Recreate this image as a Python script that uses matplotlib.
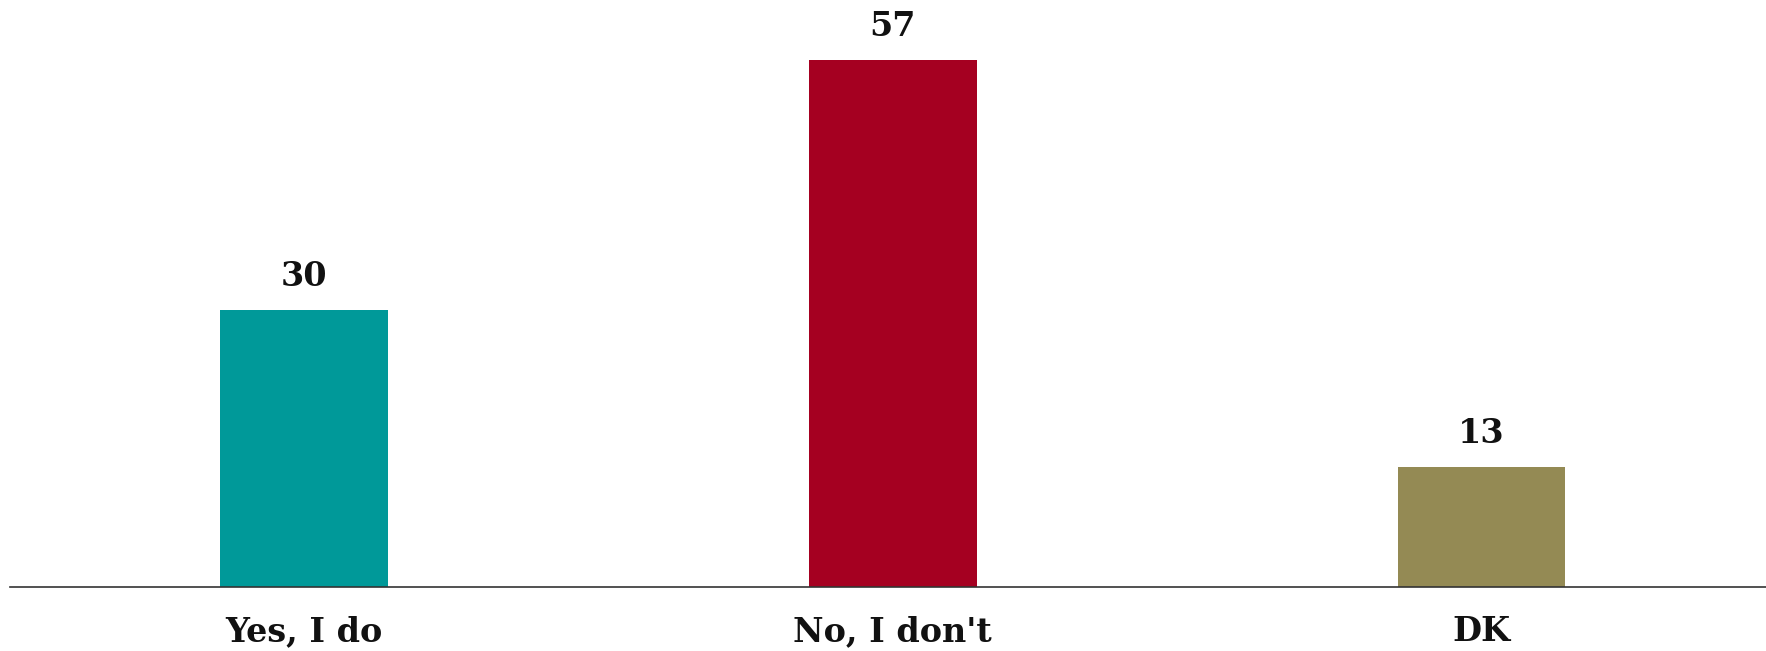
import matplotlib.pyplot as plt
import numpy as np

# datos
categorias = ['Yes, I do', "No, I don't", 'DK']
valores = [30, 57, 13]
colores = ['#009999', '#A50021', '#948A54']

fig = plt.figure(figsize=(17.66, 6.51), dpi=100)
ax = fig.add_axes([10/1766, 64/651, 1 - 10/1766, 587/651])

x = np.arange(len(categorias))
bars = ax.bar(x, valores, width=0.285, color=colores)

# etiquetas encima de las barras
for bar, v in zip(bars, valores):
    ax.annotate(str(v), (bar.get_x() + bar.get_width()/2, v),
                xytext=(0, 12), textcoords='offset points',
                ha='center', va='bottom', fontsize=24,
                fontweight='bold', family='DejaVu Serif', color='#111111')

ax.set_xlim(-0.5, 2.4835)
ax.set_ylim(0, 57 * 587 / 527)
ax.set_xticks(x)
ax.set_xticklabels(categorias, fontsize=24, fontweight='bold', family='DejaVu Serif', color='#111111')
ax.tick_params(axis='x', length=0, pad=20)
ax.set_yticks([])
for s in ['top', 'right', 'left']:
    ax.spines[s].set_visible(False)
ax.spines['bottom'].set_color('#333333')
ax.spines['bottom'].set_linewidth(1.2)

fig.savefig('out.png', dpi=100)
